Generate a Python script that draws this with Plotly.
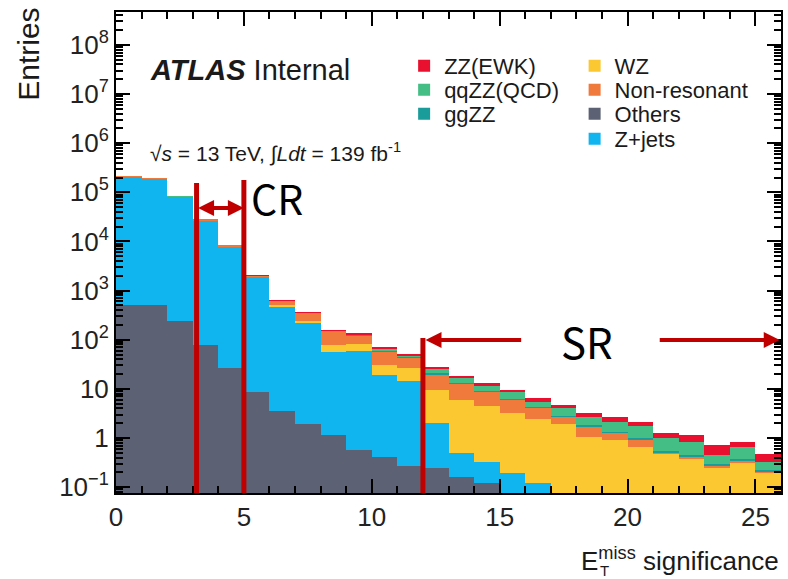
import plotly.graph_objects as go

# ---------------- data ----------------
bin_lo = list(range(0, 26))          # lower bin edges, width 1
others = [520, 500, 235, 79, 27, 8.7, 3.5, 1.9, 1.15, 0.57, 0.41, 0.27, 0.25,
          0.16, 0.12, 0, 0, 0, 0, 0, 0, 0, 0, 0, 0, 0]
zjets = [2.09e5, 1.9e5, 8.3e4, 2.7e4, 8.0e3, 1.95e3, 465, 218, 54, 57, 19, 14.2,
         1.75, 0.33, 0.20, 0.19, 0.12, 0, 0, 0, 0, 0, 0, 0, 0, 0]
wz = [30, 40, 40, 40, 30, 20, 45, 25, 24, 25, 11.5, 11.5, 7.3, 5.5, 4.2, 3.0,
      2.3, 1.9, 1.05, 0.91, 0.66, 0.48, 0.37, 0.25, 0.31, 0.19]
nonres = [150, 200, 200, 250, 150, 60, 115, 110, 69, 42, 27, 18, 10.7, 7.0, 4.2,
          2.8, 1.7, 0.8, 0.7, 0.36, 0.25, 0.015, 0.05, 0.03, 0.03, 0.02]
ggzz = [3, 3, 3, 3, 2, 2, 1.0, 1.0, 0.7, 0.7, 1.0, 0.6, 0.8, 0.4, 0.3, 0.3,
        0.15, 0.15, 0.1, 0.08, 0.08, 0.05, 0.04, 0.02, 0.03, 0.01]
qqzz = [20, 25, 25, 25, 20, 15, 6, 7, 5, 5, 8, 4, 5.5, 3.2, 2.5, 2.4, 1.15,
        1.25, 0.85, 0.75, 0.76, 0.46, 0.38, 0.16, 0.29, 0.10]
zzewk = [1, 1, 1, 1, 1, 1, 0.5, 0.6, 0.5, 0.6, 1.0, 0.8, 1.0, 2.0, 1.7, 0.8,
         1.2, 0.6, 0.5, 0.6, 0.35, 0.27, 0.31, 0.27, 0.17, 0.15]

y_tickvals = [0.1, 1, 10, 1e2, 1e3, 1e4, 1e5, 1e6, 1e7, 1e8]
y_ticktext = ["10<sup>\u22121</sup>", "1", "10", "10<sup>2</sup>", "10<sup>3</sup>",
              "10<sup>4</sup>", "10<sup>5</sup>", "10<sup>6</sup>", "10<sup>7</sup>",
              "10<sup>8</sup>"]
x_tickvals = [0, 5, 10, 15, 20, 25]

# plot-area pixel -> paper helpers
L, R, TOP, BOT = 116, 783, 12, 493
def px(p):
    return (p - L) / (R - L)
def py(p):
    return (BOT - p) / (BOT - TOP)

# (name, values, colour, legend id, legend text-x px, legend row-centre px)
# in stacking order bottom -> top
series = [
    ("Others", others, "#5C6273", "legend6", 615, 114),
    ("Z+jets", zjets, "#10B5F0", "legend7", 615, 139),
    ("WZ", wz, "#FBC832", "legend4", 615, 66),
    ("Non-resonant", nonres, "#F0793C", "legend5", 615, 90),
    ("ggZZ", ggzz, "#1A9C9A", "legend3", 444, 114),
    ("qqZZ(QCD)", qqzz, "#45BE85", "legend2", 444, 90),
    ("ZZ(EWK)", zzewk, "#E8102E", "legend", 444, 66),
]

font = "Liberation Sans, Arial, Helvetica, sans-serif"

fig = go.Figure()
legends = {}
for name, vals, col, lg, tx, ty in series:
    fig.add_trace(go.Bar(
        x=bin_lo, y=vals, width=1, offset=0, name=name,
        marker=dict(color=col, line=dict(width=0)),
        legend=lg,
    ))
    legends[lg] = dict(x=px(tx - 39), xanchor="left", y=py(ty), yanchor="middle",
                       bgcolor="rgba(0,0,0,0)", font=dict(size=22, family=font,
                                                         color="#1a1a1a"),
                       itemwidth=30, borderwidth=0)

# minor ticks for log axis
minor_y = [m * 10 ** e for e in range(-2, 9) for m in range(2, 10)]

fig.update_layout(
    width=788, height=579,
    margin=dict(l=L, r=788 - R, t=TOP, b=579 - BOT),
    paper_bgcolor="white", plot_bgcolor="white",
    barmode="stack", bargap=0,
    font=dict(family=font, color="#1a1a1a", size=26),
    showlegend=True,
    xaxis=dict(range=[0, 26], tickvals=x_tickvals, ticks="inside", ticklen=14,
               tickwidth=2, tickcolor="black", showline=True, linecolor="black",
               linewidth=2, mirror="allticks", showgrid=False, zeroline=False,
               tickfont=dict(size=26, color="#222222"),
               minor=dict(dtick=1, ticks="inside", ticklen=7, tickwidth=1.5,
                          tickcolor="black", showgrid=False)),
    yaxis=dict(type="log", range=[-1.12, 8.67], tickvals=y_tickvals,
               ticktext=y_ticktext, ticks="inside", ticklen=14, tickwidth=2,
               tickcolor="black", showline=True, linecolor="black", linewidth=2,
               mirror="allticks", showgrid=False, zeroline=False,
               tickfont=dict(size=26, color="#222222"),
               minor=dict(tickvals=minor_y, ticks="inside", ticklen=7,
                          tickwidth=1.5, tickcolor="black", showgrid=False)),
    **legends,
)

RED = "#C00000"
shapes = [
    dict(type="line", xref="x", yref="paper", x0=3.15, x1=3.15, y0=0, y1=py(183),
         line=dict(color=RED, width=5)),
    dict(type="line", xref="x", yref="paper", x0=5.0, x1=5.0, y0=0, y1=py(180),
         line=dict(color=RED, width=5)),
    dict(type="line", xref="x", yref="paper", x0=12.0, x1=12.0, y0=0, y1=py(338),
         line=dict(color=RED, width=5)),
]
fig.update_layout(shapes=shapes)

ann = [
    # y title
    dict(text="Entries", xref="paper", yref="paper", x=px(28), y=py(6),
         xanchor="center", yanchor="top", textangle=-90, showarrow=False,
         font=dict(size=30, family=font, color="#1a1a1a")),
    # x title
    dict(text="E<sup>miss</sup> significance", xref="paper", yref="paper",
         x=1.0, y=py(578), xanchor="right", yanchor="bottom", showarrow=False,
         font=dict(size=26, family=font, color="#1a1a1a")),
    dict(text="T", xref="paper", yref="paper", x=px(599),
         y=py(570), xanchor="left", yanchor="middle", showarrow=False,
         font=dict(size=15, family=font, color="#1a1a1a")),
    # ATLAS label
    dict(text="<b><i>ATLAS</i></b> Internal", xref="paper", yref="paper",
         x=px(148), y=py(70), xanchor="left", yanchor="middle",
         showarrow=False, font=dict(size=29, family=font, color="#1a1a1a")),
    dict(text="\u221a<i>s</i> = 13 TeV, \u222b<i>Ldt</i> = 139 fb<sup>-1</sup>",
         xref="paper", yref="paper", x=px(148), y=py(153),
         xanchor="left", yanchor="middle", showarrow=False,
         font=dict(size=21, family=font, color="#1a1a1a")),
    # CR arrow
    dict(x=5.0, y=py(208), ax=3.15, ay=0, xref="x", yref="paper",
         axref="x", ayref="pixel", text="", showarrow=True, arrowhead=2,
         arrowside="end+start", arrowsize=0.8, arrowwidth=4, arrowcolor=RED,
         startarrowhead=2, startarrowsize=0.8),
    dict(text="CR", xref="x", yref="paper", x=5.2, y=py(197), xanchor="left",
         yanchor="middle", showarrow=False,
         font=dict(size=41, family="Noto Sans CJK SC, Noto Sans, sans-serif",
                   color="black")),
    # SR arrows
    dict(x=12.1, y=py(340), ax=15.9, ay=0, xref="x", yref="paper",
         axref="x", ayref="pixel", text="", showarrow=True, arrowhead=2,
         arrowsize=0.8, arrowwidth=4, arrowcolor=RED),
    dict(x=25.95, y=py(340), ax=21.2, ay=0, xref="x", yref="paper",
         axref="x", ayref="pixel", text="", showarrow=True, arrowhead=2,
         arrowsize=0.8, arrowwidth=4, arrowcolor=RED),
    dict(text="SR", xref="paper", yref="paper", x=px(588), y=py(340),
         xanchor="center", yanchor="middle", showarrow=False,
         font=dict(size=42, family="Noto Sans CJK SC, Noto Sans, sans-serif",
                   color="black")),
]
fig.update_layout(annotations=ann)

fig.write_html("out.html")
